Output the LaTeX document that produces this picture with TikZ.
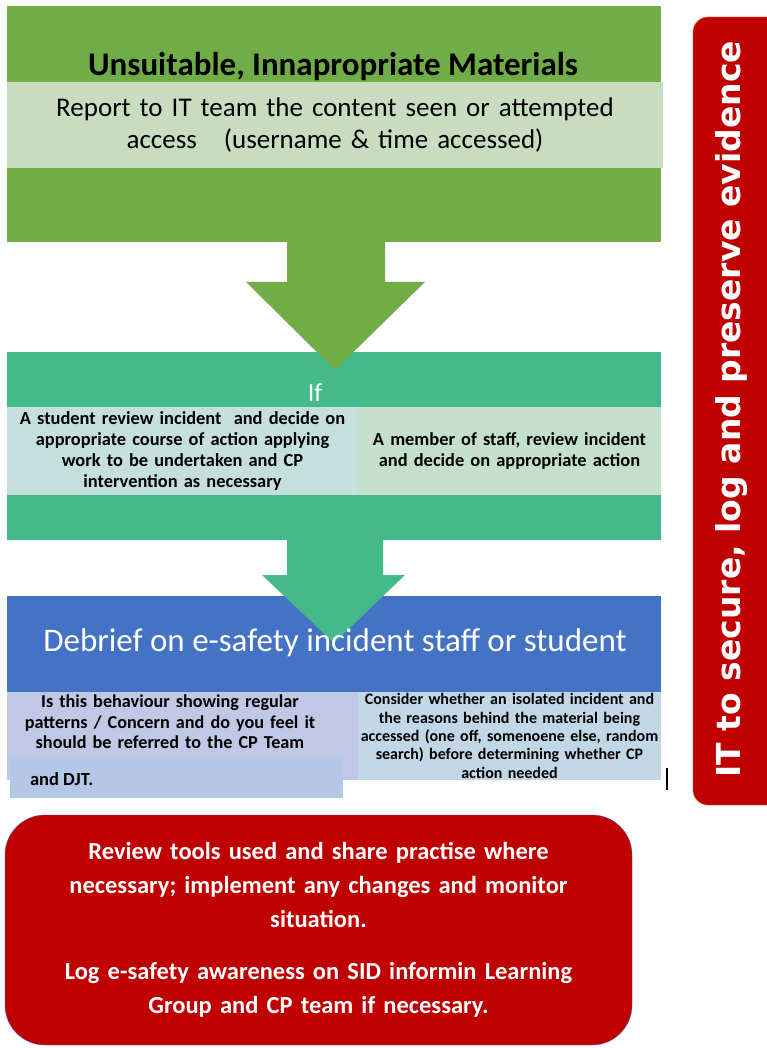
\documentclass[tikz,border=0pt]{standalone}
\usepackage{fontspec}
\setmainfont{Carlito}
\newfontfamily\heavyfont{DejaVu Sans}
\usetikzlibrary{positioning}
\definecolor{leafgreen}{HTML}{70AD47}
\definecolor{palegreen}{HTML}{C8DDC0}
\definecolor{seagreen}{HTML}{44BA8A}
\definecolor{paleteal}{HTML}{C5E0DC}
\definecolor{palemint}{HTML}{C5E0CA}
\definecolor{royalblue}{HTML}{4472C4}
\definecolor{palelilac}{HTML}{C0C8E6}
\definecolor{paleblue}{HTML}{C2D7E5}
\definecolor{djtblue}{HTML}{B4C7E7}
\definecolor{alarmred}{HTML}{C00000}

\begin{document}
\begin{tikzpicture}[x=1pt,y=-1pt,
    every node/.style={inner sep=0pt,outer sep=0pt},
    band/.style={fill=#1,minimum width=654pt,anchor=north west},
    cell/.style={fill=#1,minimum height=88pt,anchor=north west},
    smalltext/.style={text width=#1,align=center,font=\fontsize{18.4}{21}\selectfont\bfseries}]
\useasboundingbox (0,0) rectangle (767,1048);

% top stage
\node[band=leafgreen,minimum height=236pt] (materials) at (7,6) {};
\node[font=\fontsize{33}{36}\selectfont\bfseries] (title) at (333,67) {Unsuitable, Innapropriate Materials};
\node[band=palegreen,minimum width=656pt,minimum height=86pt,
      text width=640pt,align=center,font=\fontsize{27}{32}\selectfont] (report) at (7,82)
      {Report to IT team the content seen or attempted\\access\quad(username \& time accessed)};

% middle stage
\node[band=seagreen,minimum height=188pt] (choice) at (7,352) {};
\fill[leafgreen] (287,240) -- (385,240) -- (385,282) -- (425,282) -- (335,370)
  -- (246,282) -- (287,282) -- cycle;
\node[text=white,font=\fontsize{26}{30}\selectfont] (iflabel) at (315,393) {If};
\node[cell=paleteal,minimum width=351pt] (student) at (7,407) {};
\node[cell=palemint,minimum width=303pt] (staff) at (358,407) {};
\node[smalltext=345pt] at (student.center) {A student review incident\ \ and decide on\\appropriate course of action applying\\work to be undertaken and CP\\intervention as necessary};
\node[smalltext=300pt] at (staff.center) {A member of staff, review incident\\and decide on appropriate action};

% debrief stage
\node[band=royalblue,minimum height=96pt] (debrief) at (7,596) {};
\fill[seagreen] (287,538) -- (383,538) -- (383,575) -- (405,575) -- (334,643)
  -- (262,575) -- (287,575) -- cycle;
\node[text=white,font=\fontsize{33}{36}\selectfont] (debrieftitle) at (335,643) {Debrief on e-safety incident staff or student};
\node[cell=palelilac,minimum width=351pt] (pattern) at (7,692) {};
\node[cell=paleblue,minimum width=303pt] (isolated) at (358,692) {};
\node[smalltext=345pt,font=\fontsize{18.2}{20.5}\selectfont\bfseries,anchor=north] at (170,695)
  {Is this behaviour showing regular\\patterns / Concern and do you feel it\\should be referred to the CP Team};
\node[smalltext=300pt,font=\fontsize{16}{18.3}\selectfont\bfseries] at (isolated.center)
  {Consider whether an isolated incident and\\the reasons behind the material being\\accessed (one off, somenoene else, random\\search) before determining whether CP\\action needed};
\node[fill=djtblue,minimum width=333pt,minimum height=41pt,anchor=north west] (djt) at (10,757) {};
\node[font=\fontsize{18.5}{20}\selectfont\bfseries,anchor=west] at (30,779) {and DJT.};
\draw[line width=1.2pt] (667,768) -- (667,790);

% review stage
\node[fill=alarmred,draw=gray!70!blue,rounded corners=40pt,minimum width=627pt,minimum height=230pt,
      anchor=north west] (review) at (5,815) {};
\node[text=white,text width=600pt,align=center,font=\fontsize{24.5}{34}\selectfont\bfseries] at (review.center)
  {Review tools used and share practise where\\necessary; implement any changes and monitor\\situation.\\[18pt]
   Log e-safety awareness on SID informin Learning\\Group and CP team if necessary.};

% evidence bar
\node[fill=alarmred,draw=orange!80!red,rounded corners=15pt,minimum width=90pt,minimum height=788pt,
      anchor=north west] (evidence) at (693,17) {};
\node[rotate=90,text=white,font=\heavyfont\fontsize{33}{36}\selectfont\bfseries] at (732,409) {IT to secure, log and preserve evidence};
\end{tikzpicture}
\end{document}
